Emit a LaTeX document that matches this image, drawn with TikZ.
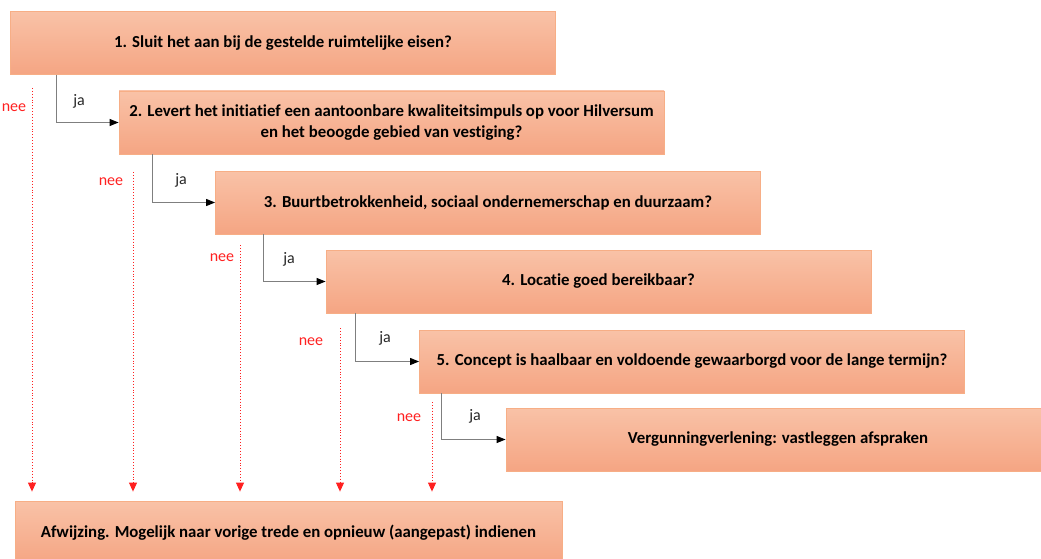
\documentclass[tikz,border=0pt]{standalone}
\usepackage{fontspec}
\setmainfont{Carlito}[Ligatures={NoCommon,NoRare,NoContextual}, RawFeature=-calt]
\usetikzlibrary{arrows.meta}
\definecolor{boxtop}{HTML}{F9C2A7}
\definecolor{boxbot}{HTML}{F5A583}
\definecolor{boxline}{HTML}{F7AE86}
\definecolor{jaline}{HTML}{7F7F7F}
\definecolor{neered}{HTML}{FF2020}
\begin{document}
\begin{tikzpicture}[x=1pt, y=-1pt,
  stepbox/.style={rectangle, draw=boxline, line width=0.8pt, top color=boxtop, bottom color=boxbot,
    minimum width=545pt, minimum height=63pt, inner sep=0pt, align=center,
    font=\fontsize{16.8}{20.5}\selectfont\bfseries},
  jaarrow/.style={draw=jaline, line width=0.9pt, -{Triangle[length=9pt, width=7pt, fill=black, color=black]}},
  neearrow/.style={draw=neered, line width=0.9pt, dotted, -{Triangle[length=9pt, width=8pt, fill=neered, color=neered]}},
  jalabel/.style={font=\fontsize{16}{18}\selectfont, text=black!85},
  neelabel/.style={font=\fontsize{16}{18}\selectfont, text=neered}]
\useasboundingbox (0,0) rectangle (1041,559);

\node [stepbox] (b1) at (283,43) {1. Sluit het aan bij de gestelde ruimtelijke eisen?};
\node [stepbox] (b2) at (391.5,122.5) {2. Levert het initiatief een aantoonbare kwaliteitsimpuls op voor Hilversum\\ en het beoogde gebied van vestiging?};
\node [stepbox] (b3) at (488,202.5) {3. Buurtbetrokkenheid, sociaal ondernemerschap en duurzaam?};
\node [stepbox] (b4) at (598.5,281.5) {4. Locatie goed bereikbaar?};
\node [stepbox] (b5) at (692,361.5) {5. Concept is haalbaar en voldoende gewaarborgd voor de lange termijn?};
\node [stepbox, minimum width=544pt] (b6) at (778,439.5) {Vergunningverlening: vastleggen afspraken};
\node [stepbox, minimum width=547pt] (afw) at (288.5,532.5) {Afwijzing. Mogelijk naar vorige trede en opnieuw (aangepast) indienen};

% ja
\draw[jaarrow] ([xshift=46pt]b1.south west) |- (b2.west);
\draw[jaarrow] ([xshift=34pt]b2.south west) |- (b3.west);
\draw[jaarrow] ([xshift=48pt]b3.south west) |- (b4.west);
\draw[jaarrow] ([xshift=30pt]b4.south west) |- (b5.west);
\draw[jaarrow] ([xshift=22pt]b5.south west) |- (b6.west);
\node [jalabel] (ja1) at (79,101) {ja};
\node [jalabel] (ja2) at (181,180) {ja};
\node [jalabel] (ja3) at (289,259) {ja};
\node [jalabel] (ja4) at (385,338) {ja};
\node [jalabel] (ja5) at (475,416) {ja};

% nee
\coordinate (n1) at (32,88);
\coordinate (n2) at (133,172);
\coordinate (n3) at (240,245);
\coordinate (n4) at (340,328);
\coordinate (n5) at (432,402);
\foreach \n in {n1,n2,n3,n4,n5}
  \draw[neearrow] (\n) -- ([yshift=9pt]\n |- afw.north);
\node [neelabel] (nee1) at (14,108) {nee};
\node [neelabel] (nee2) at (111,182) {nee};
\node [neelabel] (nee3) at (222,258) {nee};
\node [neelabel] (nee4) at (311,342) {nee};
\node [neelabel] (nee5) at (409,418) {nee};

\end{tikzpicture}
\end{document}
